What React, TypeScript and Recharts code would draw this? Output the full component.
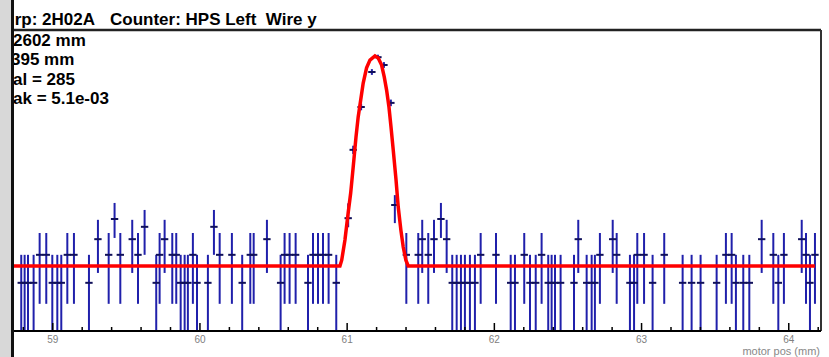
import React from 'react';
import { ComposedChart, Scatter, ErrorBar, XAxis, YAxis, ReferenceLine } from 'recharts';

// wire scan, values in units of 1e-3
const L1 = 1.17;
const L2 = 1.85;
const L3 = 2.23;
const L4 = 2.72;
const L5 = 2.53;

// asymmetric errors for each background level [low, high]
const levelErrors: Record<string, [number, number]> = {
  [L1]: [1.17, 0.68],
  [L2]: [1.19, 0.53],
  [L3]: [0.82, 0.47],
  [L4]: [0.46, 0.39],
  [L5]: [0.68, 0.41],
};

const bgX = [
  58.786, 58.809, 58.832, 58.87, 58.911, 58.956, 58.997, 59.031, 59.058, 59.099,
  59.144, 59.246, 59.307, 59.38, 59.42, 59.459, 59.54, 59.579, 59.624, 59.703,
  59.726, 59.76, 59.812, 59.839, 59.869, 59.896, 59.918, 59.952, 59.98, 60.054,
  60.095, 60.134, 60.217, 60.287, 60.342, 60.365, 60.455, 60.548, 60.575, 60.609,
  60.65, 60.734, 60.768, 60.802, 60.836, 60.874, 60.926, 61.402, 61.483, 61.51,
  61.551, 61.59, 61.637, 61.676, 61.714, 61.744, 61.773, 61.8, 61.834, 61.868,
  61.907, 62.011, 62.111, 62.14, 62.203, 62.242, 62.281, 62.321, 62.366, 62.389,
  62.412, 62.45, 62.541, 62.57, 62.627, 62.661, 62.683, 62.717, 62.804, 62.831,
  62.921, 62.949, 62.971, 63.017, 63.075, 63.154, 63.279, 63.34, 63.401, 63.51,
  63.573, 63.612, 63.641, 63.691, 63.732, 63.816, 63.895, 63.929, 63.967, 64.088,
  64.117, 64.144, 64.178,
];
const bgY = [
  L1, L1, L1, L1, L2, L2, L1, L1, L1, L2,
  L2, L1, L3, L2, L4, L2, L3, L2, L5, L1,
  L2, L3, L2, L2, L1, L1, L1, L2, L1, L1,
  L5, L2, L2, L1, L2, L2, L3, L1, L2, L2,
  L2, L1, L2, L2, L2, L2, L1, L2, L2, L3,
  L2, L3, L4, L3, L1, L1, L1, L1, L1, L1,
  L2, L2, L1, L1, L2, L1, L1, L2, L1, L1,
  L1, L1, L1, L3, L1, L1, L1, L2, L3, L2,
  L1, L1, L2, L2, L1, L2, L1, L1, L1, L1,
  L2, L2, L1, L1, L1, L3, L2, L1, L2, L3,
  L2, L1, L2,
];

const peakX = [61.007, 61.041, 61.095, 61.168, 61.209, 61.25, 61.297, 61.324];
const peakY = [2.74, 4.4, 5.44, 6.29, 6.65, 6.46, 5.54, 3.06];
const peakLo = [0.22, 0.1, 0.08, 0.07, 0.06, 0.07, 0.08, 0.44];
const peakHi = [0.36, 0.1, 0.08, 0.07, 0.06, 0.07, 0.08, 0.24];

// fitted curve as drawn
const fitX = [
  58.73, 60.951, 60.963, 60.985, 61.007, 61.024, 61.041, 61.06, 61.075, 61.092,
  61.109, 61.132, 61.155, 61.189, 61.211, 61.234, 61.252, 61.268, 61.284, 61.298,
  61.313, 61.332, 61.347, 61.365, 61.381, 61.399, 61.415, 64.177,
];
const fitY = [
  1.58, 1.58, 1.72, 2.21, 2.87, 3.35, 3.98, 4.71, 5.2, 5.61,
  6.02, 6.39, 6.58, 6.68, 6.63, 6.46, 6.17, 5.85, 5.44, 4.95,
  4.4, 3.67, 3.01, 2.45, 2.04, 1.72, 1.58, 1.58,
];

const xTicks = [
  58.8, 59, 59.2, 59.4, 59.6, 59.8, 60, 60.2, 60.4, 60.6, 60.8, 61, 61.2, 61.4,
  61.6, 61.8, 62, 62.2, 62.4, 62.6, 62.8, 63, 63.2, 63.4, 63.6, 63.8, 64, 64.2,
];

const statLines = ['2602 mm', '395 mm', 'al = 285', 'ak = 5.1e-03'];

const X_MIN = 58.73;
const X_MAX = 64.219;
const Y_MAX = 7.31;
const BIN_HALF = 0.025;

const bgData = bgX.map((x, i) => ({
  x,
  y: bgY[i],
  ey: levelErrors[bgY[i]],
  ex: BIN_HALF,
}));
const peakData = peakX.map((x, i) => ({
  x,
  y: peakY[i],
  ey: [peakLo[i], peakHi[i]],
  ex: BIN_HALF,
}));
const fitData = fitX.map((x, i) => ({ x, y: fitY[i] }));

const BLUE = '#2020ab';
const DARK = '#10105a';
const FONT = '"Liberation Sans", Arial, Helvetica, sans-serif';

const noShape = () => <g />;

function MotorTick(props: any) {
  const { x, y, payload } = props;
  const v = Number(payload.value);
  const major = Math.abs(v - Math.round(v)) < 1e-6;
  return (
    <g>
      <line x1={x} x2={x} y1={y} y2={y - (major ? 8 : 4)} stroke="#000" strokeWidth={1.5} />
      {major && (
        <text x={x} y={y + 12} textAnchor="middle" fontSize={10} fill="#808080" fontFamily={FONT}>
          {v}
        </text>
      )}
    </g>
  );
}

const textBase: React.CSSProperties = {
  position: 'absolute',
  fontSize: 17,
  lineHeight: '17px',
  fontWeight: 'bold',
  whiteSpace: 'pre',
  color: '#000',
};

export default function App() {
  return (
    <div
      style={{
        position: 'absolute',
        left: 0,
        top: 0,
        width: 829,
        height: 357,
        background: '#fff',
        overflow: 'hidden',
        fontFamily: FONT,
      }}
    >
      <ComposedChart
        width={829}
        height={357}
        margin={{ top: 30, right: 8, left: 13, bottom: 0 }}
      >
        <XAxis
          type="number"
          dataKey="x"
          domain={[X_MIN, X_MAX]}
          allowDataOverflow
          ticks={xTicks}
          interval={0}
          height={26}
          tickSize={0}
          tickMargin={0}
          tickLine={false}
          axisLine={{ stroke: '#000', strokeWidth: 2 }}
          tick={<MotorTick />}
        />
        <YAxis type="number" dataKey="y" domain={[0, Y_MAX]} allowDataOverflow hide />
        <ReferenceLine y={Y_MAX} stroke="#222" strokeWidth={2.5} />
        <ReferenceLine x={X_MAX} stroke="#333" strokeWidth={2} />
        <Scatter data={bgData} shape={noShape} isAnimationActive={false}>
          <ErrorBar dataKey="ey" direction="y" width={0} stroke={BLUE} strokeWidth={2} />
          <ErrorBar dataKey="ex" direction="x" width={0} stroke={DARK} strokeWidth={2} />
        </Scatter>
        <Scatter
          data={fitData}
          shape={noShape}
          line={{ stroke: '#ff0000', strokeWidth: 3.5 }}
          lineType="joint"
          isAnimationActive={false}
        />
        <Scatter data={peakData} shape={noShape} isAnimationActive={false}>
          <ErrorBar dataKey="ey" direction="y" width={0} stroke={BLUE} strokeWidth={2} />
          <ErrorBar dataKey="ex" direction="x" width={0} stroke={DARK} strokeWidth={2} />
        </Scatter>
      </ComposedChart>

      {/* title, left part is cut by the pad edge */}
      <div style={{ ...textBase, right: 829 - 95, top: 10.5 }}>rp: 2H02A</div>
      <div style={{ ...textBase, left: 110, top: 10.5 }}>{'Counter: HPS Left  Wire y'}</div>

      {statLines.map((t, i) => (
        <div key={t} style={{ ...textBase, left: i === 1 ? 11 : 13, top: 31.6 + i * 19.6 }}>
          {t}
        </div>
      ))}

      <div style={{ position: 'absolute', left: 0, top: 0, width: 11, height: 357, background: '#d8d8d8' }} />
      <div style={{ position: 'absolute', left: 11, top: 0, width: 3, height: 357, background: '#111' }} />

      <div
        style={{
          position: 'absolute',
          right: 9,
          top: 346,
          fontSize: 11,
          lineHeight: '11px',
          color: '#888',
          whiteSpace: 'pre',
        }}
      >
        motor pos (mm)
      </div>
    </div>
  );
}
